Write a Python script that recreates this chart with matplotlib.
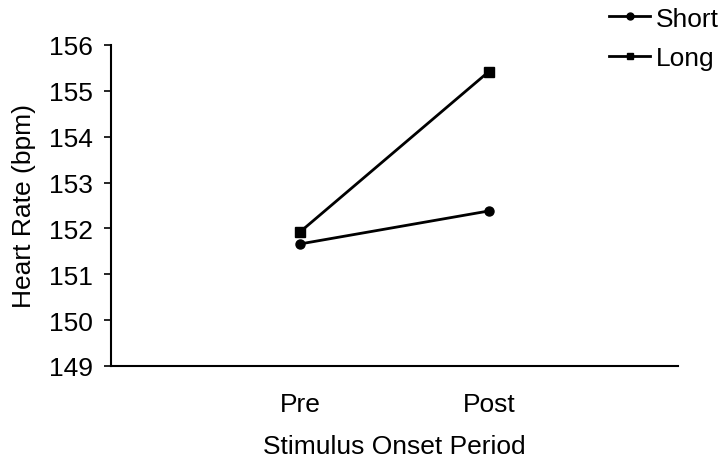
import matplotlib
matplotlib.use("Agg")
import matplotlib.pyplot as plt
from matplotlib.lines import Line2D

plt.rcParams['font.family'] = ['Liberation Sans', 'DejaVu Sans']

periods = ["Pre", "Post"]
short_vals = [151.66, 152.38]
long_vals = [151.92, 155.42]
yticks = [149, 150, 151, 152, 153, 154, 155, 156]

FS = 19

fig = plt.figure(figsize=(7.25, 4.6), dpi=100)
ax = fig.add_axes([0.153, 0.2022, 0.782, 0.698])

x = list(range(len(periods)))
ax.plot(x, short_vals, color='black', lw=2, marker='o', ms=6.5, label='Short')
ax.plot(x, long_vals, color='black', lw=2, marker='s', ms=6.5, label='Long')

ax.set_xlim(-1, 2)
ax.set_ylim(149, 156)
ax.set_yticks(yticks)
ax.set_yticklabels([str(t) for t in yticks], fontsize=FS)
ax.set_xticks(x)
ax.set_xticklabels(periods, fontsize=FS)
ax.tick_params(axis='x', length=0, pad=19)
ax.tick_params(axis='y', direction='out', length=5, width=1.2, pad=8)

for s in ['top', 'right']:
    ax.spines[s].set_visible(False)
for s in ['left', 'bottom']:
    ax.spines[s].set_linewidth(1.5)

ax.set_ylabel("Heart Rate (bpm)", fontsize=FS, labelpad=9)
ax.set_xlabel("Stimulus Onset Period", fontsize=FS, labelpad=13)

handles = [Line2D([0], [0], color='black', lw=2, marker='o', ms=5),
           Line2D([0], [0], color='black', lw=2, marker='s', ms=5)]
fig.legend(handles, ['Short', 'Long'], loc='upper right', bbox_to_anchor=(1.024, 1.035),
           frameon=False, fontsize=FS, handlelength=1.55, handletextpad=0.2,
           labelspacing=0.6)

fig.savefig("out.png", dpi=100)
